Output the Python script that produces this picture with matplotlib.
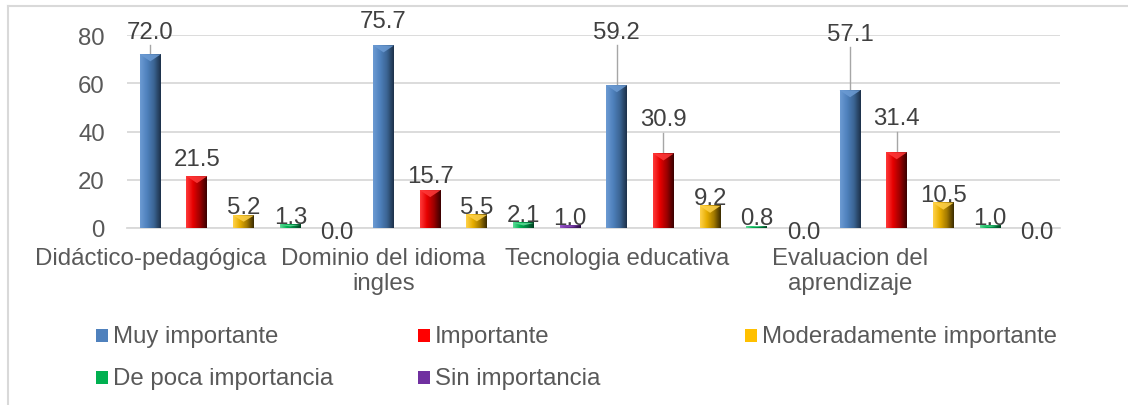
import matplotlib
matplotlib.use("Agg")
import matplotlib.pyplot as plt
import numpy as np
from matplotlib.colors import LinearSegmentedColormap
from matplotlib.patches import Polygon, Rectangle
from matplotlib.lines import Line2D

plt.rcParams['font.family'] = ['Liberation Sans', 'DejaVu Sans']

categories = ["Didáctico-pedagógica", "Dominio del idioma\ningles",
              "Tecnologia educativa", "Evaluacion del\naprendizaje"]
series_names = ["Muy importante", "Importante", "Moderadamente importante",
                "De poca importancia", "Sin importancia"]
muy_importante = [72.0, 75.7, 59.2, 57.1]
importante = [21.5, 15.7, 30.9, 31.4]
moderadamente = [5.2, 5.5, 9.2, 10.5]
poca_importancia = [1.3, 2.1, 0.8, 1.0]
sin_importancia = [0.0, 1.0, 0.0, 0.0]
values = [muy_importante, importante, moderadamente, poca_importancia, sin_importancia]

# gradient stops (left -> right) for the bevelled bars, plus legend colour
gradients = [
    ["#6c9bd3", "#4f81bd", "#3b6594", "#1d3149"],
    ["#ff3a3a", "#e60000", "#9c0000", "#3a0000"],
    ["#ffd24a", "#e6ad00", "#a37a00", "#3a2b00"],
    ["#5fdc98", "#00b050", "#008040", "#004020"],
    ["#9a5ccc", "#7030a0", "#502078", "#281040"],
]
legend_colors = ["#4f81bd", "#ff0000", "#ffc000", "#00b050", "#7030a0"]

# moved data labels (centre y, data units) and which ones get a leader line
label_pos = {(0, 0): 81.3, (0, 1): 85.7, (0, 2): 81.3, (0, 3): 80.6,
             (1, 0): 28.4, (1, 1): 21.7, (1, 2): 45.0, (1, 3): 45.4,
             (4, 0): -1.5, (4, 2): -1.5, (4, 3): -1.5}
leaders = [(0, 0), (0, 2), (0, 3), (1, 2), (1, 3)]
FS = 17.3

W, H = 1128, 406
fig = plt.figure(figsize=(W / 100, H / 100), dpi=100)
ax = fig.add_axes([127 / W, 1 - 229 / H, (1060 - 127) / W, (229 - 36) / H])

step = 0.2
width = 0.09
px = 80 / (229 - 36)  # data units per pixel

for s, vals in enumerate(values):
    cmap = LinearSegmentedColormap.from_list("g%d" % s, gradients[s])
    grad = np.linspace(0, 1, 64).reshape(1, -1)
    for i, v in enumerate(vals):
        x = i + s * step
        x0, x1 = x - width / 2, x + width / 2
        if v > 0:
            ax.imshow(grad, extent=[x0, x1, 0, v], aspect='auto', cmap=cmap,
                      interpolation='bilinear', zorder=3)
            d = min(7 * px, v / 2)
            ax.add_patch(Polygon([[x0, v], [x1, v], [x, v - d]], closed=True,
                                 facecolor=gradients[s][0], edgecolor='none',
                                 alpha=0.85, zorder=4))
        if (s, i) in label_pos:
            ly = label_pos[(s, i)]
            ax.text(x, ly, "%.1f" % v, ha='center', va='center', fontsize=FS,
                    color='#404040', zorder=5, clip_on=False)
        else:
            ax.annotate("%.1f" % v, (x, v), xytext=(0, 8), textcoords='offset pixels',
                        ha='center', va='center', fontsize=FS, color='#404040',
                        zorder=5, annotation_clip=False)
        if (s, i) in leaders:
            ax.plot([x, x], [label_pos[(s, i)] - 5.6, v], color='#a6a6a6', lw=1,
                    zorder=2, clip_on=False)

ax.set_xlim(-0.1, 3.9)
ax.set_ylim(0, 80)
ax.set_yticks([0, 20, 40, 60, 80])
ax.set_xticks(range(len(categories)))
ax.set_xticklabels(categories, fontsize=FS, color='#595959', linespacing=1.15)
ax.tick_params(axis='y', length=0, pad=16, labelsize=FS, labelcolor='#595959')
ax.tick_params(axis='x', length=0, pad=14)
ax.grid(axis='y', color='#d9d9d9', lw=1.3, zorder=0)
ax.set_axisbelow(True)
for sp in ['top', 'right', 'left']:
    ax.spines[sp].set_visible(False)
ax.spines['bottom'].set_color('#d9d9d9')
ax.spines['bottom'].set_linewidth(1.3)

# legend laid out like the original (three columns, two rows)
legend_slots = [(96, 336), (418, 336), (745, 336), (96, 378), (418, 378)]
for k, name in enumerate(series_names):
    lx, ly = legend_slots[k]
    fig.patches.append(Rectangle((lx / W, 1 - (ly + 6.5) / H), 12 / W, 13 / H,
                                 transform=fig.transFigure, facecolor=legend_colors[k],
                                 edgecolor='none'))
    fig.text((lx + 17) / W, 1 - (ly + 1) / H, name, ha='left', va='center',
             fontsize=FS, color='#595959')

# chart area border
fig.add_artist(Line2D([8 / W, 1], [1 - 7 / H, 1 - 7 / H], transform=fig.transFigure,
                      color='#d9d9d9', lw=1.5))
fig.add_artist(Line2D([8 / W, 8 / W], [1 - 7 / H, 0], transform=fig.transFigure,
                      color='#d9d9d9', lw=1.5))

fig.savefig("out.png", dpi=100)
